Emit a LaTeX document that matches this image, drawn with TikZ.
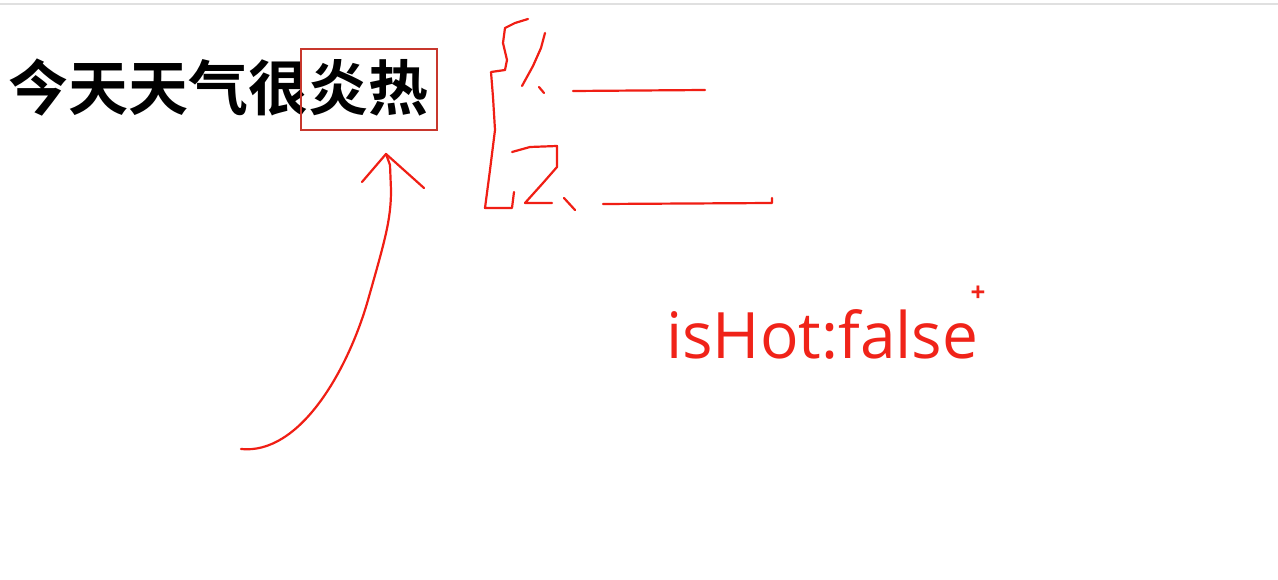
\documentclass[tikz,border=0pt]{standalone}
\usepackage{fontspec}
\newfontfamily\cjk{Noto Sans CJK SC}[BoldFont={Noto Sans CJK SC Bold}]
\newfontfamily\latinfont{Open Sans}
\definecolor{penred}{RGB}{240,30,20}
\definecolor{boxred}{RGB}{200,55,45}
\definecolor{txtred}{RGB}{240,35,25}
\tikzset{
  pen/.style={draw=penred, line width=2.2pt, line cap=round, line join=round},
  headline/.style={inner sep=0pt, anchor=west, font=\cjk\bfseries\fontsize{60}{60}\selectfont},
  framebox/.style={draw=boxred, line width=1.8pt, minimum width=136pt, minimum height=81pt, inner sep=0pt},
  redlabel/.style={inner sep=0pt, anchor=base west, text=txtred, font=\latinfont\fontsize{64}{64}\selectfont}
}
\begin{document}
\begin{tikzpicture}[x=1pt,y=-1pt]
\useasboundingbox (0,0) rectangle (1278,580);
\fill[white] (0,0) rectangle (1278,580);
% top rule
\draw[black!12, line width=1.5pt] (0,4) -- (1278,4);
% headline
\node[headline] (title) at (8,88) {今天天气很炎热};
\node[framebox] (hot) at (369,89.5) {};
% arrow
\coordinate (tail) at (241,449);
\coordinate (tip) at (386,154);
\draw[pen] (tail) .. controls (300,455) and (348,370) .. (368,300)
  .. controls (385,240) and (391,220) .. (391,190) -- (390,165) -- (tip);
\draw[pen] (362,182) -- (tip) -- (424,188);
% bracket
\draw[pen] (528,19) -- (515,23) -- (505,28) -- (503,43) -- (507,60) -- (505,70) -- (491,72)
  -- (493,97) -- (495,130) -- (490,170) -- (485,208) -- (512,208) -- (514,192);
\draw[pen] (545,33) -- (541,48) -- (533,66) -- (522,86);
\draw[pen] (539,87) -- (544,93);
\draw[pen] (512,152) -- (530,147) -- (557,146) -- (557,167) -- (543,183) -- (525,203) -- (552,203);
\draw[pen] (564,198) -- (575,210);
% blank lines
\coordinate (l1a) at (573,91);
\coordinate (l1b) at (705,90);
\draw[pen] (l1a) -- (l1b);
\coordinate (l2a) at (603,204);
\coordinate (l2b) at (772,203);
\draw[pen] (l2a) -- (l2b) -- (772,198);
% label
\node[redlabel] (state) at (666,358) {isHot:false};
\node[inner sep=0pt, text=txtred, font=\latinfont\bfseries\fontsize{26}{26}\selectfont] (plus) at (978,294) {+};
\end{tikzpicture}
\end{document}
